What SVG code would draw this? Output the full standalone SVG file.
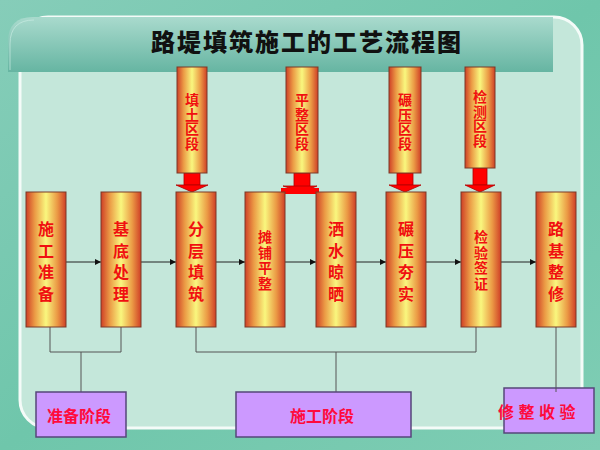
<svg xmlns="http://www.w3.org/2000/svg" width="600" height="450" viewBox="0 0 600 450">
<defs>
  <linearGradient id="bg" x1="0" y1="0" x2="1" y2="1">
    <stop offset="0" stop-color="#86cdb9"/>
    <stop offset="0.5" stop-color="#6fc6ab"/>
    <stop offset="1" stop-color="#7fcdb4"/>
  </linearGradient>
  <linearGradient id="band" x1="0" y1="0" x2="0" y2="1">
    <stop offset="0" stop-color="#a9dacd"/>
    <stop offset="1" stop-color="#66b5a2"/>
  </linearGradient>
  <linearGradient id="bar" x1="0" y1="0" x2="1" y2="0">
    <stop offset="0" stop-color="#cf3f26"/>
    <stop offset="0.22" stop-color="#eb9a45"/>
    <stop offset="0.5" stop-color="#f9f77e"/>
    <stop offset="0.78" stop-color="#eb9a45"/>
    <stop offset="1" stop-color="#cf3f26"/>
  </linearGradient>
  <marker id="ah" viewBox="0 0 10 10" refX="10" refY="5" markerWidth="6" markerHeight="6" orient="auto" markerUnits="userSpaceOnUse">
    <path d="M0,0 L10,5 L0,10 z" fill="#111"/>
  </marker>
  <style>
    .step{fill:url(#bar);stroke:#7a3a28;stroke-width:1}
    .st{font-family:"Noto Sans CJK SC","Noto Sans",sans-serif;font-weight:700;fill:#f01010;text-anchor:middle;writing-mode:vertical-rl}
    .big{font-size:16px;letter-spacing:5.5px}
    .tight{font-size:14px;letter-spacing:1.5px}
    .sec{font-size:14px;letter-spacing:0.8px}
    .red{fill:#ff0000;stroke:#b00000;stroke-width:0.8}
    .flow{stroke:#222;stroke-width:1;fill:none;marker-end:url(#ah)}
    .conn{stroke:#555;stroke-width:1;fill:none}
    .phase{fill:#cc99ff;stroke:#55477a;stroke-width:1.5}
    .pt{font-family:"Noto Sans CJK SC","Noto Sans",sans-serif;font-weight:700;fill:#ff0a3c;font-size:16px;text-anchor:middle}
  </style>
</defs>

<!-- background -->
<rect x="0" y="0" width="600" height="450" fill="url(#bg)"/>
<rect x="20" y="17" width="562" height="411" rx="28" fill="#c4e7da" stroke="#f4fbf8" stroke-width="3"/>
<path d="M8,72 V42 Q8,17 33,17 H553 V72 Z" fill="url(#band)"/>
<path d="M10,70 V44 Q10,20 34,20" fill="none" stroke="#c9ebe2" stroke-width="1" opacity="0.7"/>

<g id="title">
  <text x="307" y="51" font-family="Noto Sans CJK SC,sans-serif" font-weight="900" font-size="24" letter-spacing="2" text-anchor="middle" fill="#111">路堤填筑施工的工艺流程图</text>
</g>

<!-- connectors -->
<g id="connectors">
  <line class="flow" x1="66" y1="262" x2="101" y2="262"/>
  <line class="flow" x1="141" y1="262" x2="176" y2="262"/>
  <line class="flow" x1="216" y1="262" x2="245" y2="262"/>
  <line class="flow" x1="285" y1="262" x2="316" y2="262"/>
  <line class="flow" x1="356" y1="262" x2="386" y2="262"/>
  <line class="flow" x1="426" y1="262" x2="461" y2="262"/>
  <line class="flow" x1="501" y1="262" x2="536" y2="262"/>
  <path class="conn" d="M50,327 V352 H121 V327 M81,352 V392"/>
  <path class="conn" d="M196,327 V352 H476 V327 M336,352 V392"/>
  <path class="conn" d="M556,327 V392"/>
  <!-- red down arrows -->
  <g id="arrow-tiantu">
    <rect class="red" x="184" y="173" width="16" height="12"/>
    <polygon class="red" points="176,185 208,185 192,192"/>
  </g>
  <g id="arrow-pingzheng">
    <rect class="red" x="294" y="173" width="16" height="14"/>
    <polygon class="red" points="283,186 317,186 302,192"/>
    <rect x="281" y="188" width="38" height="6" fill="#ff0000"/>
  </g>
  <g id="arrow-nianya">
    <rect class="red" x="397" y="173" width="16" height="12"/>
    <polygon class="red" points="389,185 421,185 405,192"/>
  </g>
  <g id="arrow-jiance">
    <rect class="red" x="473" y="168" width="14" height="17"/>
    <polygon class="red" points="465,185 495,185 480,192"/>
  </g>
</g>

<!-- top section boxes -->
<g id="sec-tiantu">
  <rect class="step" x="177" y="67" width="30" height="106"/>
  <text class="st sec" x="192" y="122">填土区段</text>
</g>
<g id="sec-pingzheng">
  <rect class="step" x="286" y="67" width="32" height="106"/>
  <text class="st sec" x="302" y="122">平整区段</text>
</g>
<g id="sec-nianya">
  <rect class="step" x="389" y="67" width="32" height="106"/>
  <text class="st sec" x="405" y="122">碾压区段</text>
</g>
<g id="sec-jiance">
  <rect class="step" x="465" y="67" width="30" height="101"/>
  <text class="st sec" x="480" y="119">检测区段</text>
</g>

<!-- main steps -->
<g id="step1">
  <rect class="step" x="26" y="192" width="40" height="135"/>
  <text class="st big" x="46" y="264">施工准备</text>
</g>
<g id="step2">
  <rect class="step" x="101" y="192" width="40" height="135"/>
  <text class="st big" x="121" y="264">基底处理</text>
</g>
<g id="step3">
  <rect class="step" x="176" y="192" width="40" height="135"/>
  <text class="st big" x="196" y="264">分层填筑</text>
</g>
<g id="step4">
  <rect class="step" x="245" y="192" width="40" height="135"/>
  <text class="st tight" x="265" y="261">摊铺平整</text>
</g>
<g id="step5">
  <rect class="step" x="316" y="192" width="40" height="135"/>
  <text class="st big" x="336" y="264">洒水晾晒</text>
</g>
<g id="step6">
  <rect class="step" x="386" y="192" width="40" height="135"/>
  <text class="st big" x="406" y="264">碾压夯实</text>
</g>
<g id="step7">
  <rect class="step" x="461" y="192" width="40" height="135"/>
  <text class="st tight" x="481" y="261">检验签证</text>
</g>
<g id="step8">
  <rect class="step" x="536" y="192" width="40" height="135"/>
  <text class="st big" x="556" y="264">路基整修</text>
</g>

<!-- phases -->
<g id="phase-prep">
  <rect class="phase" x="36" y="392" width="90" height="45"/>
  <text class="pt" x="79" y="422">准备阶段</text>
</g>
<g id="phase-build">
  <rect class="phase" x="236" y="392" width="175" height="45"/>
  <text class="pt" x="322" y="422">施工阶段</text>
</g>
<g id="phase-accept">
  <rect class="phase" x="504" y="388" width="90" height="45"/>
  <text class="pt" font-size="17" x="539" y="418" letter-spacing="4.5">修整收验</text>
</g>
<path class="conn" d="M556,388 V392"/>
</svg>
